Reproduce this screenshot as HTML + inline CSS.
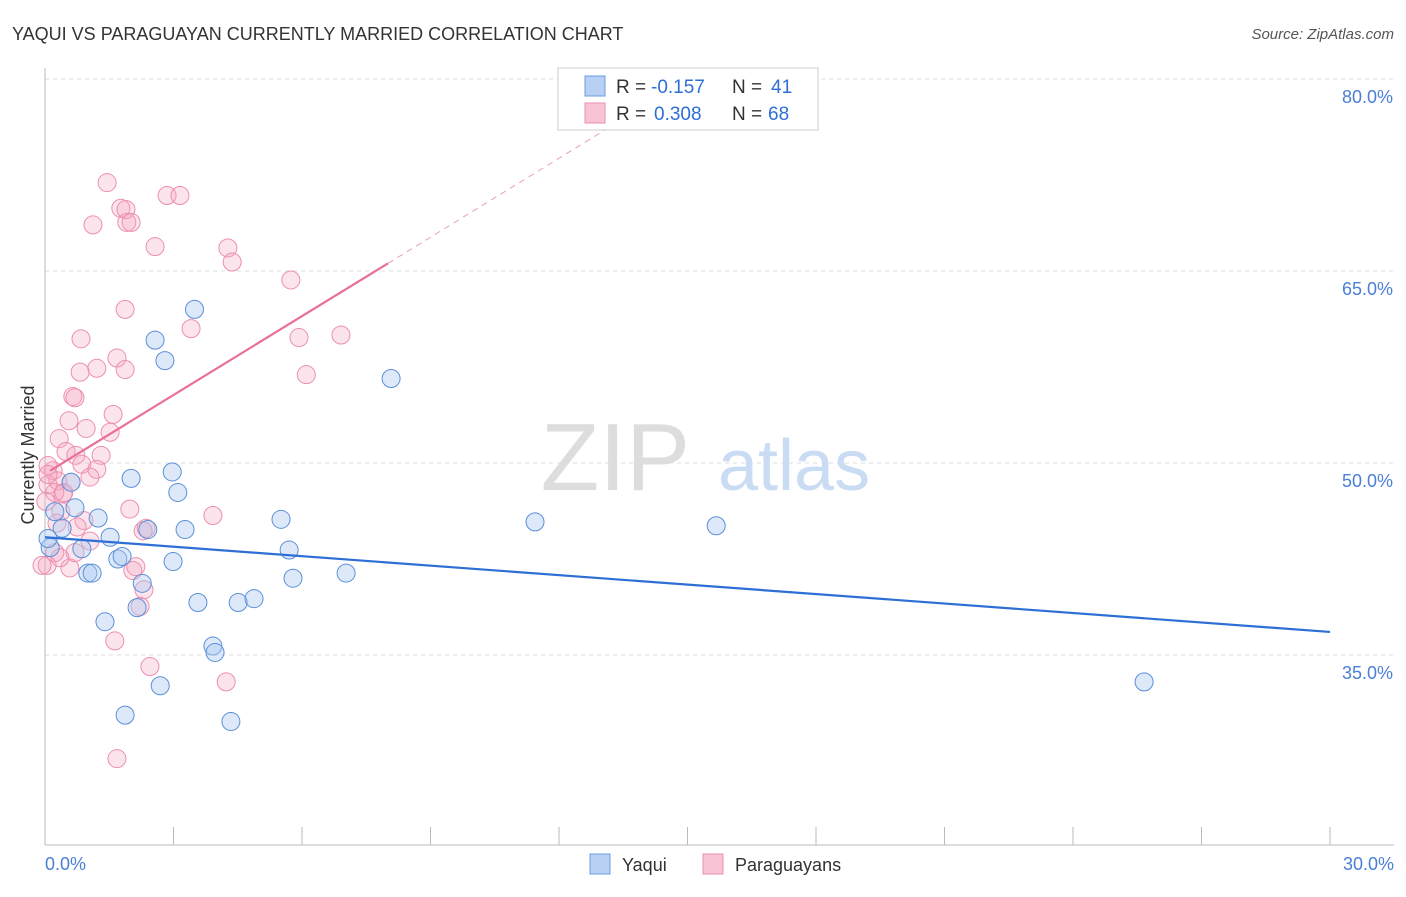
<!DOCTYPE html>
<html><head><meta charset="utf-8"><style>
body{margin:0;background:#fff;font-family:"Liberation Sans",sans-serif}
svg text{font-family:"Liberation Sans",sans-serif}
</style></head><body>
<svg width="1406" height="892" viewBox="0 0 1406 892">
<text x="12" y="40" font-size="18" fill="#333">YAQUI VS PARAGUAYAN CURRENTLY MARRIED CORRELATION CHART</text>
<text x="1394" y="39" font-size="15" fill="#555" font-style="italic" text-anchor="end">Source: ZipAtlas.com</text>
<g id="grid"></g>
<text x="690" y="490" font-size="96" fill="#ddd" text-anchor="end" font-family="Liberation Serif">ZIP</text>
<text x="718" y="490" font-size="72" fill="#c9dcf3">atlas</text>
<line x1="45" y1="68" x2="45" y2="845" stroke="#bbb"/>
<line x1="45" y1="845" x2="1394" y2="845" stroke="#bbb"/>
<g id="ticks"></g>
<text x="34" y="455" font-size="18" fill="#333" text-anchor="middle" transform="rotate(-90 34 455)">Currently Married</text>
<text x="45" y="870" font-size="18" fill="#4a7fd6">0.0%</text>
<text x="1394" y="870" font-size="18" fill="#4a7fd6" text-anchor="end">30.0%</text>
<g id="pts"></g>
<g id="lines"></g>
<g>
<rect x="558" y="68" width="260" height="62" fill="#fff" stroke="#ccc"/>
<rect x="585" y="76" width="20" height="20" fill="#b8d0f4" stroke="#6a9be0"/>
<rect x="585" y="103" width="20" height="20" fill="#f8c3d4" stroke="#ec8fae"/>
<text x="616" y="93" font-size="19" fill="#333">R =</text>
<text x="651" y="93" font-size="19" fill="#2e6fd6">-0.157</text>
<text x="732" y="93" font-size="19" fill="#333">N =</text>
<text x="771" y="93" font-size="19" fill="#2e6fd6">41</text>
<text x="616" y="120" font-size="19" fill="#333">R =</text>
<text x="654" y="120" font-size="19" fill="#2e6fd6">0.308</text>
<text x="732" y="120" font-size="19" fill="#333">N =</text>
<text x="768" y="120" font-size="19" fill="#2e6fd6">68</text>
</g>
<g><rect x="590" y="854" width="20" height="20" fill="#b8d0f4" stroke="#6a9be0"/><text x="622" y="871" font-size="18" fill="#333">Yaqui</text></g>
<g><rect x="703" y="854" width="20" height="20" fill="#f8c3d4" stroke="#ec8fae"/><text x="735" y="871" font-size="18" fill="#333">Paraguayans</text></g>
</svg>
<script>
const yTicks=[80,65,50,35];
const yaquiX=[3.49,2.57,2.8,8.08,2.01,2.97,3.1,0.61,1.24,0.23,0.7,0.4,0.86,1.52,2.4,3.27,5.51,5.7,11.44,15.67,1.7,1.8,2.99,1.0,1.1,5.79,7.03,2.27,3.57,4.51,4.88,2.15,1.4,3.92,3.97,2.69,1.87,4.34,25.66,0.12,0.07];
const yaquiY=[62.0,59.6,58.0,56.6,48.8,49.3,47.7,48.5,45.7,46.2,46.5,44.9,43.3,44.2,44.8,44.8,45.6,43.2,45.4,45.1,42.5,42.7,42.3,41.4,41.4,41.0,41.4,40.6,39.1,39.1,39.4,38.7,37.6,35.7,35.2,32.6,30.3,29.8,32.9,43.4,44.1];
const parX=[1.45,2.85,3.15,1.12,1.77,1.89,1.91,2.01,2.57,4.27,4.37,5.74,1.87,3.41,0.84,5.93,6.91,1.68,1.21,1.87,0.82,6.1,0.65,0.7,1.59,0.56,0.33,1.52,0.96,0.49,0.72,1.31,0.86,1.21,0.19,1.05,0.30,0.42,0.23,0.07,0.44,0.61,0.07,0.02,0.37,0.91,0.75,1.98,2.36,2.29,3.92,1.05,0.23,0.58,2.05,2.12,2.31,2.22,0.05,1.63,2.45,4.23,1.68,0.07,0.28,0.70,0.35,-0.07];
const parY=[71.9,70.9,70.9,68.6,69.9,69.8,68.8,68.8,66.9,66.8,65.7,64.3,62.0,60.5,59.7,59.8,60.0,58.2,57.4,57.3,57.1,56.9,55.2,55.1,53.8,53.3,51.9,52.4,52.7,50.9,50.6,50.6,49.9,49.5,49.4,48.9,48.6,47.6,47.7,48.3,47.7,48.5,49.8,47.0,46.2,45.5,45.0,46.4,44.9,44.7,45.9,43.9,43.0,41.8,41.6,41.9,40.1,38.8,42.0,36.1,34.1,32.9,26.9,49.1,45.3,43.0,42.6,42.0];
const xMin=0,xMax=30;
function sx(v){return 45+(v-xMin)/(xMax-xMin)*1285;}
function sy(v){return 79+(80-v)*12.8;}
const NS="http://www.w3.org/2000/svg";
function mk(t,a,p){const e=document.createElementNS(NS,t);for(const k in a)e.setAttribute(k,a[k]);p.appendChild(e);return e;}
const grid=document.getElementById('grid');
yTicks.forEach(t=>{
 const l=mk('line',{x1:45,x2:1394,y1:sy(t),y2:sy(t),stroke:'#ddd','stroke-dasharray':'4,4'},grid);
 
 
 const tx=mk('text',{x:1393,y:sy(t)+24,'font-size':18,fill:'#4a7fd6','text-anchor':'end'},grid);
 tx.textContent=t.toFixed(1)+'%';
 
 
});
const ticks=document.getElementById('ticks');
for(let i=0;i<=10;i++){
 const x=sx(i*3);
 const l=mk('line',{x1:x,x2:x,y1:827,y2:845,stroke:'#bbb'},ticks);
 
 
}
const pts=document.getElementById('pts');
parX.forEach((v,i)=>{
 const c=mk('circle',{cx:sx(v),cy:sy(parY[i]),r:9,fill:'rgba(244,166,191,0.3)',stroke:'#ec8fae','stroke-width':1},pts);
 
 
});
yaquiX.forEach((v,i)=>{
 const c=mk('circle',{cx:sx(v),cy:sy(yaquiY[i]),r:9,fill:'rgba(169,200,240,0.4)',stroke:'#5b8fd9','stroke-width':1},pts);
 
 
});
const lines=document.getElementById('lines');
let l=mk('line',{x1:sx(0),y1:sy(44.2),x2:sx(30),y2:sy(36.8),stroke:'#2e6fd6','stroke-width':2.2},lines);


l=mk('line',{x1:sx(0.12),y1:sy(49.4),x2:sx(8.01),y2:sy(65.6),stroke:'#e8709a','stroke-width':2.2},lines);


l=mk('line',{x1:sx(8.01),y1:sy(65.6),x2:sx(13.6),y2:sy(77.1),stroke:'#e8a0b8','stroke-width':1,'stroke-dasharray':'6,5'},lines);


</script>
</body></html>
